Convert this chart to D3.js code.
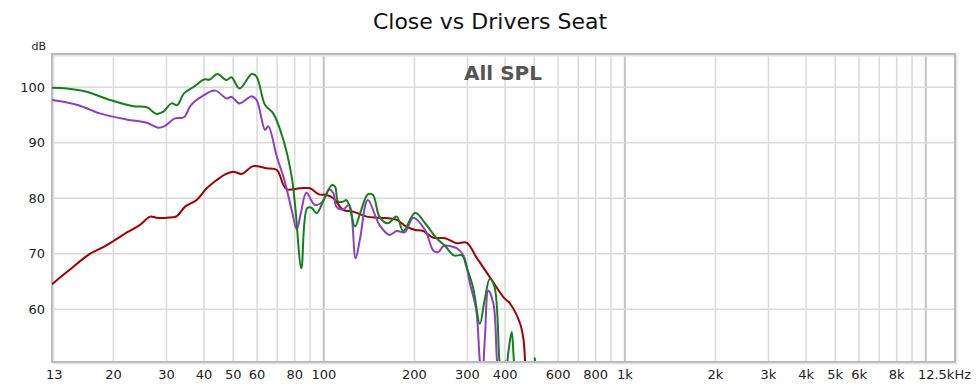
<!DOCTYPE html>
<html lang="en">
<head>
    <meta charset="UTF-8">
    <title>Close vs Drivers Seat</title>
    <script src="https://d3js.org/d3.v7.min.js"></script>
    <style>
        body {
            margin: 0;
            background: #ffffff;
            font-family: "DejaVu Sans", Arial, sans-serif;
        }
        .grid line {
            stroke: #dadada;
            stroke-width: 1.5;
        }
        .grid line.major {
            stroke: #c4c4c4;
            stroke-width: 2;
        }
        .tick-label {
            font-size: 13px;
            fill: #222;
        }
        .trace {
            fill: none;
            stroke-width: 2;
            stroke-linejoin: round;
        }
    </style>
</head>
<body>
<svg id="chart" width="980" height="385"></svg>
<script>
    // frequencies (Hz) shared by the traces
    const greenFreq = [12.5, 14, 16.3, 19.5, 23.3, 25.8, 27.8, 29.3, 31.2, 32.6, 34.3, 37, 40, 41.8, 44.3, 47.5, 49.3, 52.5, 57.6, 59.8, 63.8, 67.9, 73.4, 78.2, 80.5, 84.2, 88, 91, 94.6, 100.5, 106.4, 109, 111.6, 116, 118.6, 121.3, 127, 132, 140, 145.6, 153, 163, 174.6, 183.5, 201, 217, 237, 253, 270, 288, 298, 313, 330, 342, 356, 369, 383, 392, 402, 413, 421, 428, 440, 495, 503, 511];
    const greenDb = [99.9, 99.8, 99.2, 97.7, 96.6, 96.4, 95.2, 95.6, 97.1, 96.8, 98.9, 100.1, 101.4, 101.4, 102.4, 101.3, 101.8, 99.8, 102.4, 101.9, 96.8, 95.3, 90.5, 83.9, 78, 67.4, 78.2, 78.3, 77.3, 80.0, 82.4, 82.1, 79.4, 79.4, 79.7, 78.8, 74.9, 77.3, 80.7, 80.6, 76.7, 75.5, 76.7, 74.1, 77.4, 75.5, 72.8, 71.4, 69.7, 69.7, 67.6, 64.0, 57.4, 61.6, 65.5, 64.0, 50.8, 45, 48, 53.5, 55.9, 50.8, 45, 45, 51.2, 45];

    const purpleFreq = [12.5, 15.2, 18, 22.1, 25.8, 28.2, 29.6, 32, 34.3, 36.2, 40, 43.6, 47.5, 49.3, 52.5, 57.6, 59.8, 63.8, 65.4, 69.8, 73.4, 75.4, 78.5, 81.3, 84, 87.5, 93.4, 99, 104, 107.6, 110, 116, 121.3, 127.5, 132, 140, 153, 165, 174.6, 186, 198, 217, 231, 240, 250, 276, 291, 306, 321, 330, 336, 343, 352, 366, 376, 385, 402, 406];
    const purpleDb = [97.7, 96.8, 95.3, 94.2, 93.6, 92.7, 93.0, 94.4, 94.6, 96.8, 98.6, 99.4, 98.0, 98.3, 97.1, 98.4, 97.7, 92.3, 93.0, 87.5, 83.9, 81.5, 77.5, 74.4, 77.5, 81.0, 78.8, 79.4, 81.6, 80.9, 78.5, 78.0, 78.8, 69.2, 72.8, 79.7, 75.2, 73.4, 74.1, 73.9, 76.5, 74.3, 70.6, 70.3, 71.4, 71.0, 69.7, 64.6, 59.8, 50.6, 48, 55, 63.4, 61.0, 50.8, 45, 50.7, 45];

    const redFreq = [12.5, 14, 16.7, 18.5, 20, 22.1, 24.5, 26.5, 27.8, 30.1, 32.5, 34.6, 37.8, 40.8, 44.1, 47, 50, 53.4, 58.2, 64.6, 69.8, 73.4, 75.4, 83.4, 90, 96.3, 102, 107.6, 116, 125, 138.8, 153.5, 174.6, 188, 201, 214, 231, 253, 276, 298, 321, 356, 395, 416, 449, 461, 466, 470];
    const redDb = [64.5, 66.7, 70.0, 71.2, 72.3, 73.8, 75.2, 76.7, 76.5, 76.5, 76.8, 78.5, 79.7, 81.8, 83.3, 84.3, 84.8, 84.4, 85.8, 85.4, 85.1, 82.4, 81.6, 81.8, 81.8, 80.7, 80.6, 80.0, 77.9, 77.6, 76.7, 76.5, 76.1, 74.9, 74.3, 74.1, 72.9, 72.8, 71.9, 72.0, 69.4, 65.8, 62.2, 61.0, 57.4, 54.4, 50.8, 45];

    const xTicks = [13, 20, 30, 40, 50, 60, 80, 100, 200, 300, 400, 600, 800, 1000, 2000, 3000, 4000, 5000, 6000, 8000, 12500];
    const xTickLabels = ["13", "20", "30", "40", "50", "60", "80", "100", "200", "300", "400", "600", "800", "1k", "2k", "3k", "4k", "5k", "6k", "8k", "12.5kHz"];
    const yTicks = [60, 70, 80, 90, 100];

    const svg = d3.select("#chart");
    const plotLeft = 52, plotRight = 955, plotTop = 54, plotBottom = 362;

    const x = d3.scaleLog().domain([12.5, 12500]).range([plotLeft, plotRight]);
    const y = d3.scaleLinear().domain([50.5, 106]).range([plotBottom, plotTop]);

    // vertical grid: every 1-2-...-9 step per decade
    const gridFreqs = [];
    [10, 100, 1000, 10000].forEach(dec => {
        for (let k = 1; k <= 9; k++) {
            const f = dec * k;
            if (f > 12.5 && f < 12500) gridFreqs.push(f);
        }
    });

    const grid = svg.append("g").attr("class", "grid");
    grid.selectAll("line.v")
        .data(gridFreqs)
        .enter().append("line")
        .attr("class", d => [100, 1000, 10000].includes(d) ? "v major" : "v")
        .attr("x1", d => x(d)).attr("x2", d => x(d))
        .attr("y1", plotTop).attr("y2", plotBottom);

    grid.selectAll("line.h")
        .data(yTicks)
        .enter().append("line")
        .attr("class", "h")
        .attr("x1", plotLeft).attr("x2", plotRight)
        .attr("y1", d => y(d)).attr("y2", d => y(d));

    // frame with soft shadow
    svg.append("rect")
        .attr("x", plotLeft + 1.5).attr("y", plotTop + 1.5)
        .attr("width", plotRight - plotLeft).attr("height", plotBottom - plotTop)
        .attr("fill", "none")
        .attr("stroke", "#e6e6e6")
        .attr("stroke-width", 2);
    svg.append("rect")
        .attr("x", plotLeft).attr("y", plotTop)
        .attr("width", plotRight - plotLeft).attr("height", plotBottom - plotTop)
        .attr("fill", "none")
        .attr("stroke", "#bcbcbc")
        .attr("stroke-width", 2);

    svg.append("clipPath").attr("id", "plot-clip")
        .append("rect")
        .attr("x", plotLeft).attr("y", plotTop)
        .attr("width", plotRight - plotLeft).attr("height", plotBottom - plotTop - 1);

    const line = d3.line()
        .x(d => x(d[0]))
        .y(d => y(d[1]))
        .curve(d3.curveCatmullRom.alpha(0.5));

    const traces = [
        {freq: redFreq, db: redDb, color: "#a30000"},
        {freq: purpleFreq, db: purpleDb, color: "#8e3fc0"},
        {freq: greenFreq, db: greenDb, color: "#13801a"}
    ];

    const plot = svg.append("g").attr("clip-path", "url(#plot-clip)");
    traces.forEach(t => {
        plot.append("path")
            .datum(d3.zip(t.freq, t.db))
            .attr("class", "trace")
            .attr("stroke", t.color)
            .attr("d", line);
    });

    // axis labels
    const last = xTicks.length - 1;
    svg.selectAll(".xlab")
        .data(xTicks)
        .enter().append("text")
        .attr("class", "tick-label")
        .attr("x", (d, i) => i === 0 ? plotLeft - 6 : (i === last ? 971 : x(d)))
        .attr("y", 379)
        .attr("text-anchor", (d, i) => i === 0 ? "start" : (i === last ? "end" : "middle"))
        .text((d, i) => xTickLabels[i]);

    svg.selectAll(".ylab")
        .data(yTicks)
        .enter().append("text")
        .attr("class", "tick-label")
        .attr("x", 45)
        .attr("y", d => y(d) + 4.5)
        .attr("text-anchor", "end")
        .text(d => d);

    svg.append("text")
        .attr("class", "tick-label")
        .attr("x", 46).attr("y", 50)
        .attr("text-anchor", "end")
        .style("font-size", "11px")
        .text("dB");

    svg.append("text")
        .attr("x", 490).attr("y", 29)
        .attr("text-anchor", "middle")
        .style("font-size", "22px")
        .style("fill", "#111")
        .text("Close vs Drivers Seat");

    svg.append("text")
        .attr("x", 503).attr("y", 80)
        .attr("text-anchor", "middle")
        .style("font-size", "20px")
        .style("font-weight", "bold")
        .style("fill", "#555")
        .text("All SPL");
</script>
</body>
</html>
